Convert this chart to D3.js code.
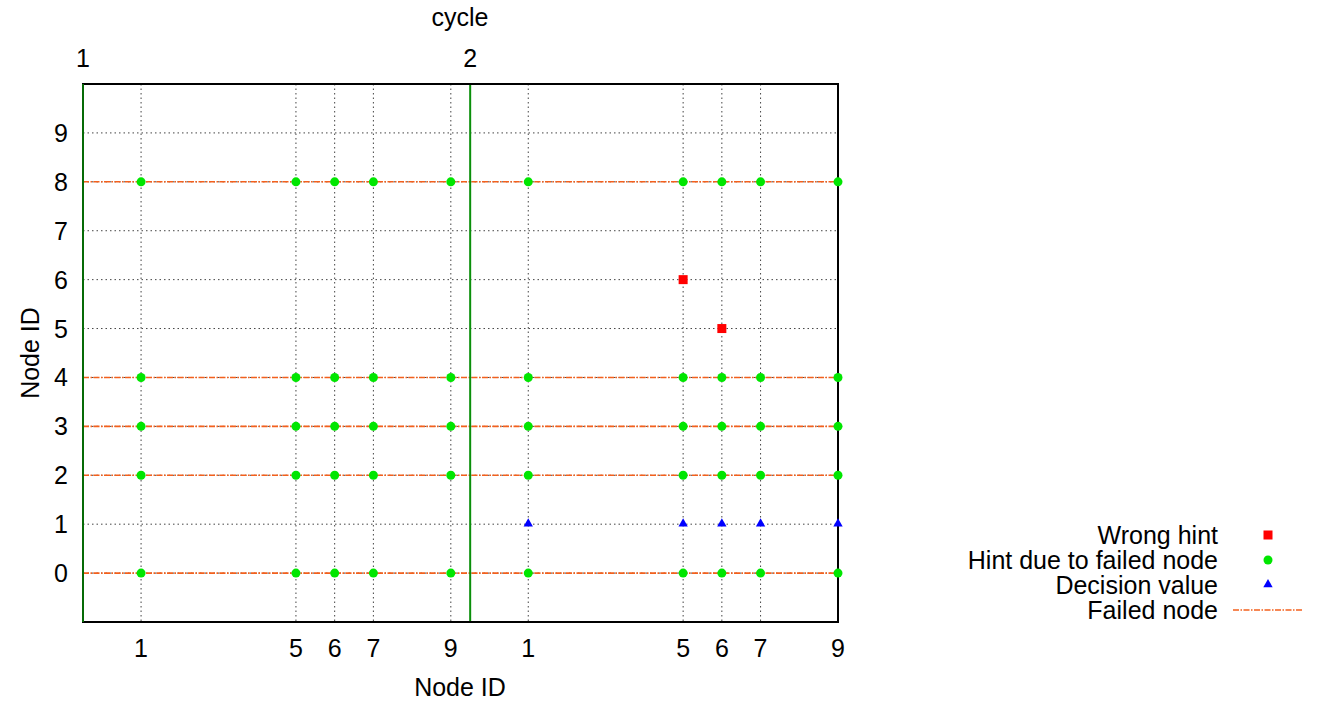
<!DOCTYPE html>
<html>
<head>
<meta charset="utf-8">
<script src="https://cdn.jsdelivr.net/npm/d3@7"></script>
<style>
  body { margin: 0; background: #fff; }
  svg { font-family: "Liberation Sans", Arial, Helvetica, sans-serif; }
</style>
</head>
<body>
<svg id="chart" width="1319" height="702"></svg>
<script>
// Cycles shown along the top axis; each cycle spans 10 node slots
const cycles = [1, 2];
const cycleLength = 10;
// Node IDs on the bottom axis (repeated per cycle)
const nodeTicks = [1, 5, 6, 7, 9];
// Node IDs on the left axis
const yTicks = [0, 1, 2, 3, 4, 5, 6, 7, 8, 9];

// Failed nodes (horizontal lines) and the hints they cause
const failedNodes = [0, 2, 3, 4, 8];
const hintCycles = [1, 2];
const hintNodes = [1, 5, 6, 7, 9];

// Wrong hints: cycle, node, value
const wrongHintCycle = [2, 2];
const wrongHintNode = [5, 6];
const wrongHintValue = [6, 5];

// Decision values: cycle 2, reported at node value 1
const decisionCycle = 2;
const decisionNodes = [1, 5, 6, 7, 9];
const decisionValue = 1;

const legendLabels = ["Wrong hint", "Hint due to failed node", "Decision value", "Failed node"];

const colors = {
  wrong: "#ff0000",
  hint: "#00e600",
  decision: "#0000ff",
  failed: "#f4601c",
  cycleLine: "#0a8f0a",
  grid: "#444"
};

const svg = d3.select("#chart");
const plotL = 83, plotR = 838, plotT = 84, plotB = 622;

const pos = (cycle, node) => (cycle - 1) * cycleLength + node;

const x = d3.scaleLinear().domain([-0.5, 19]).range([plotL, plotR]);
const y = d3.scaleLinear().domain([-1, 10]).range([plotB, plotT]);

const xTickVals = [];
cycles.forEach(c => nodeTicks.forEach(n => xTickVals.push(pos(c, n))));
const cycleStarts = cycles.map(c => pos(c, 0) - 0.5);

// Grid
const grid = svg.append("g");
grid.selectAll("line.v").data(xTickVals).join("line")
  .attr("x1", d => x(d)).attr("x2", d => x(d))
  .attr("y1", plotT).attr("y2", plotB)
  .attr("stroke", colors.grid).attr("stroke-width", 1)
  .attr("stroke-dasharray", "1.5,3");
grid.selectAll("line.h").data(yTicks).join("line")
  .attr("x1", plotL).attr("x2", plotR)
  .attr("y1", d => y(d)).attr("y2", d => y(d))
  .attr("stroke", colors.grid).attr("stroke-width", 1)
  .attr("stroke-dasharray", "1.5,3");

// Failed node lines
svg.append("g").selectAll("line").data(failedNodes).join("line")
  .attr("x1", plotL).attr("x2", plotR)
  .attr("y1", d => y(d)).attr("y2", d => y(d))
  .attr("stroke", colors.failed).attr("stroke-width", 1.6)
  .attr("stroke-dasharray", "6,1.5,1.5,1.5");

// Cycle boundaries
svg.append("g").selectAll("line").data(cycleStarts).join("line")
  .attr("x1", d => x(d)).attr("x2", d => x(d))
  .attr("y1", plotT).attr("y2", plotB)
  .attr("stroke", colors.cycleLine).attr("stroke-width", 2);

// Frame, with the first cycle boundary drawn again on its left edge
svg.append("rect")
  .attr("x", plotL).attr("y", plotT)
  .attr("width", plotR - plotL).attr("height", plotB - plotT)
  .attr("fill", "none").attr("stroke", "#000").attr("stroke-width", 2);
svg.append("line")
  .attr("x1", x(cycleStarts[0])).attr("x2", x(cycleStarts[0]))
  .attr("y1", plotT).attr("y2", plotB)
  .attr("stroke", colors.cycleLine).attr("stroke-width", 1.5);

// Hints due to failed nodes
const hintPts = [];
failedNodes.forEach(f => hintCycles.forEach(c => hintNodes.forEach(n => hintPts.push({ x: pos(c, n), y: f }))));
svg.append("g").selectAll("circle").data(hintPts).join("circle")
  .attr("cx", d => x(d.x)).attr("cy", d => y(d.y)).attr("r", 4.5)
  .attr("fill", colors.hint);

// Wrong hints
svg.append("g").selectAll("rect").data(wrongHintNode.map((n, i) => ({ x: pos(wrongHintCycle[i], n), y: wrongHintValue[i] })))
  .join("rect")
  .attr("x", d => x(d.x) - 4.5).attr("y", d => y(d.y) - 4.5)
  .attr("width", 9).attr("height", 9)
  .attr("fill", colors.wrong);

// Decision values
const tri = d3.symbol().type(d3.symbolTriangle).size(38);
svg.append("g").selectAll("path").data(decisionNodes.map(n => ({ x: pos(decisionCycle, n), y: decisionValue })))
  .join("path")
  .attr("d", tri)
  .attr("transform", d => `translate(${x(d.x)},${y(d.y) - 0.5})`)
  .attr("fill", colors.decision);

// Axis labels
const fs = 25;
svg.append("g").selectAll("text").data(xTickVals).join("text")
  .attr("x", d => x(d)).attr("y", 657)
  .attr("text-anchor", "middle").attr("font-size", fs)
  .text(d => ((d - 1) % cycleLength) + 1);

svg.append("g").selectAll("text").data(yTicks).join("text")
  .attr("x", 68).attr("y", d => y(d) + 9)
  .attr("text-anchor", "end").attr("font-size", fs)
  .text(d => d);

svg.append("g").selectAll("text").data(cycles).join("text")
  .attr("x", (d, i) => x(cycleStarts[i])).attr("y", 67)
  .attr("text-anchor", "middle").attr("font-size", fs)
  .text(d => d);

svg.append("text").attr("x", 460).attr("y", 26)
  .attr("text-anchor", "middle").attr("font-size", fs).text("cycle");
svg.append("text").attr("x", 460).attr("y", 696)
  .attr("text-anchor", "middle").attr("font-size", fs).text("Node ID");
svg.append("text")
  .attr("transform", "translate(39,353) rotate(-90)")
  .attr("text-anchor", "middle").attr("font-size", fs).text("Node ID");

// Legend
const legY = [535, 560, 585, 610];
const lg = svg.append("g");
lg.selectAll("text").data(legendLabels).join("text")
  .attr("x", 1218).attr("y", (d, i) => legY[i] + 9)
  .attr("text-anchor", "end").attr("font-size", fs)
  .text(d => d);
lg.append("rect").attr("x", 1268 - 4.5).attr("y", legY[0] - 4.5)
  .attr("width", 9).attr("height", 9).attr("fill", colors.wrong);
lg.append("circle").attr("cx", 1268).attr("cy", legY[1]).attr("r", 4.5)
  .attr("fill", colors.hint);
lg.append("path").attr("d", tri)
  .attr("transform", `translate(1268,${legY[2] - 0.5})`).attr("fill", colors.decision);
lg.append("line").attr("x1", 1233).attr("x2", 1303)
  .attr("y1", legY[3]).attr("y2", legY[3])
  .attr("stroke", colors.failed).attr("stroke-width", 1.6)
  .attr("stroke-dasharray", "6,1.5,1.5,1.5");
</script>
</body>
</html>
